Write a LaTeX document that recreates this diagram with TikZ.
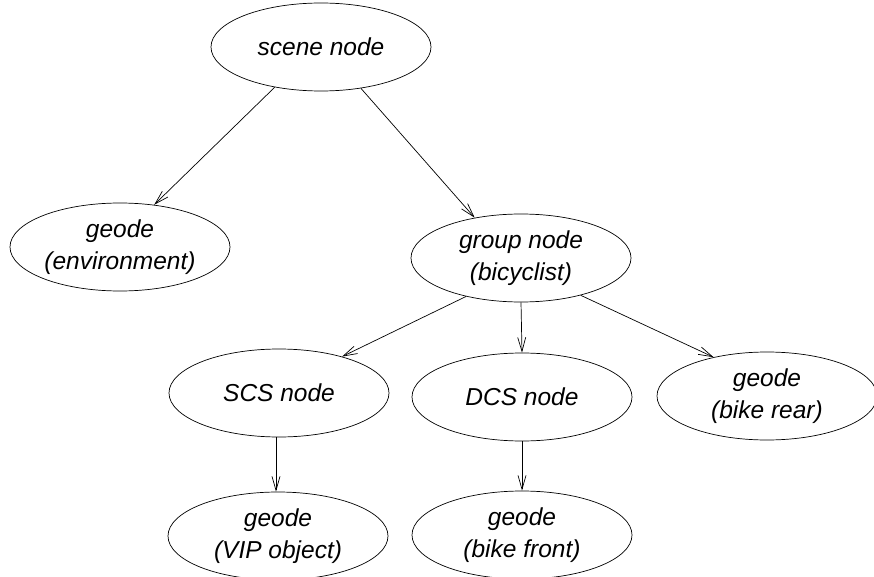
\documentclass[tikz,border=0pt]{standalone}
\usepackage{fontspec}
\setmainfont{Liberation Sans}
\usetikzlibrary{shapes.geometric,arrows.meta}
\begin{document}
\begin{tikzpicture}[x=1pt,y=1pt,
  obj/.style={ellipse,draw,line width=0.7pt,minimum width=220pt,minimum height=88pt,inner sep=0pt,
    align=center,font=\fontsize{24.5pt}{32pt}\selectfont\itshape},
  link/.style={line width=0.7pt,-{Straight Barb[length=14pt,width=8pt,line width=0.7pt]}}]
\useasboundingbox (0,0) rectangle (874,-577);
\node[obj] (scene) at (321,-47) {scene node};
\node[obj] (env) at (120,-247) {geode\\(environment)};
\node[obj] (group) at (521,-258) {group node\\(bicyclist)};
\node[obj] (scs) at (279,-393) {SCS node};
\node[obj] (dcs) at (522,-397) {DCS node};
\node[obj] (rear) at (767,-396) {geode\\(bike rear)};
\node[obj] (vip) at (278,-536) {geode\\(VIP object)};
\node[obj] (front) at (522,-535) {geode\\(bike front)};
\draw[link] (scene.221) -- (env.51);
\draw[link] (scene.314) -- (group.139);
\draw[link] (group.215) -- (scs.30);
\draw[link] (group.south) -- (dcs.north);
\draw[link] (group.328) -- (rear.144);
\draw[link] ([xshift=-3pt]scs.south) -- ([xshift=-2pt]vip.north);
\draw[link] (dcs.south) -- (front.north);
\end{tikzpicture}
\end{document}
